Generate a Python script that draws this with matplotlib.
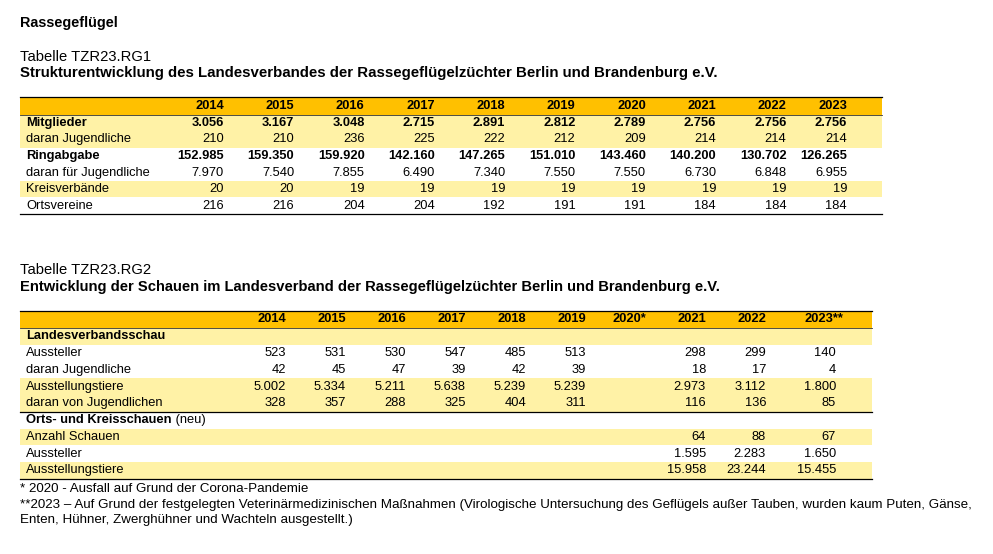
import matplotlib
matplotlib.use("Agg")
import matplotlib.pyplot as plt
from matplotlib.patches import Rectangle

plt.rcParams['font.family'] = ['Liberation Sans', 'DejaVu Sans']

# Tabelle 1 - Strukturentwicklung
years1 = ['2014', '2015', '2016', '2017', '2018', '2019', '2020', '2021', '2022', '2023']
labels1 = ['Mitglieder', 'daran Jugendliche', 'Ringabgabe', 'daran für Jugendliche',
           'Kreisverbände', 'Ortsvereine']
mitglieder = [3056, 3167, 3048, 2715, 2891, 2812, 2789, 2756, 2756, 2756]
mitglieder_jug = [210, 210, 236, 225, 222, 212, 209, 214, 214, 214]
ringabgabe = [152985, 159350, 159920, 142160, 147265, 151010, 143460, 140200, 130702, 126265]
ringabgabe_jug = [7970, 7540, 7855, 6490, 7340, 7550, 7550, 6730, 6848, 6955]
kreisverbaende = [20, 20, 19, 19, 19, 19, 19, 19, 19, 19]
ortsvereine = [216, 216, 204, 204, 192, 191, 191, 184, 184, 184]
bold1 = [True, False, True, False, False, False]
shade1 = [True, True, False, False, True, False]

# Tabelle 2 - Schauen
years2 = ['2014', '2015', '2016', '2017', '2018', '2019', '2020*', '2021', '2022', '2023**']
labels2 = ['Landesverbandsschau', 'Aussteller', 'daran Jugendliche', 'Ausstellungstiere',
           'daran von Jugendlichen', 'Orts- und Kreisschauen', 'Anzahl Schauen',
           'Aussteller', 'Ausstellungstiere']
lv_aussteller = [523, 531, 530, 547, 485, 513, None, 298, 299, 140]
lv_jugend = [42, 45, 47, 39, 42, 39, None, 18, 17, 4]
lv_tiere = [5002, 5334, 5211, 5638, 5239, 5239, None, 2973, 3112, 1800]
lv_tiere_jug = [328, 357, 288, 325, 404, 311, None, 116, 136, 85]
ok_schauen = [None] * 7 + [64, 88, 67]
ok_aussteller = [None] * 7 + [1595, 2283, 1650]
ok_tiere = [None] * 7 + [15958, 23244, 15455]
empty = [None] * 10
bold2 = [True, False, False, False, False, True, False, False, False]
shade2 = [True, False, False, True, True, False, True, False, True]

footnotes = ['* 2020 - Ausfall auf Grund der Corona-Pandemie',
             '**2023 – Auf Grund der festgelegten Veterinärmedizinischen Maßnahmen (Virologische '
             'Untersuchung des Geflügels außer Tauben, wurden kaum Puten, Gänse,',
             'Enten, Hühner, Zwerghühner und Wachteln ausgestellt.)']

ORANGE = '#FFC000'
YELLOW = '#FFF2A6'
FS = 9.3


def fmt(v):
    if v is None:
        return ''
    return f"{v:,}".replace(',', '.')


def draw_table(ax, top, head_h, row_h, x0, x1, col_x, head, labels, rows, bold, shade,
               val_x=None, mid_line=None):
    if val_x is None:
        val_x = col_x
    ax.add_patch(Rectangle((x0, top), x1 - x0, head_h, color=ORANGE, lw=0))
    for c, y in zip(col_x, head):
        ax.text(c, top + head_h / 2, y, ha='right', va='center', fontsize=FS, fontweight='bold')
    y0 = top + head_h
    for i, (lab, vals) in enumerate(zip(labels, rows)):
        yt = y0 + i * row_h
        if shade[i]:
            ax.add_patch(Rectangle((x0, yt), x1 - x0, row_h, color=YELLOW, lw=0))
        w = 'bold' if bold[i] else 'normal'
        t = ax.text(x0 + 6, yt + row_h / 2, lab, ha='left', va='center', fontsize=FS, fontweight=w)
        if lab.startswith('Orts-'):
            ax.annotate(' (neu)', xy=(1, 0), xycoords=t, ha='left', va='bottom', fontsize=FS)
        for c, v in zip(val_x, vals):
            ax.text(c, yt + row_h / 2, fmt(v), ha='right', va='center', fontsize=FS, fontweight=w)
    bottom = y0 + len(labels) * row_h
    ax.plot([x0, x1], [top, top], color='black', lw=0.9)
    ax.plot([x0, x1], [y0, y0], color='#333333', lw=0.6)
    ax.plot([x0, x1], [bottom, bottom], color='black', lw=0.9)
    if mid_line is not None:
        ym = y0 + mid_line * row_h
        ax.plot([x0, x1], [ym, ym], color='black', lw=0.9)


fig = plt.figure(figsize=(9.93, 5.54), dpi=100)
ax = fig.add_axes([0, 0, 1, 1])
ax.set_xlim(0, 993)
ax.set_ylim(554, 0)
ax.axis('off')

ax.text(20, 23, 'Rassegeflügel', fontsize=10.4, fontweight='bold', va='center')

ax.text(20, 57, 'Tabelle TZR23.RG1', fontsize=10.6, va='center')
ax.text(20, 72.5, 'Strukturentwicklung des Landesverbandes der Rassegeflügelzüchter Berlin und '
        'Brandenburg e.V.', fontsize=10.8, fontweight='bold', va='center')
cols1 = [224 + 70.3 * i for i in range(9)] + [847]
rows1 = [mitglieder, mitglieder_jug, ringabgabe, ringabgabe_jug, kreisverbaende, ortsvereine]
draw_table(ax, 97, 17.5, 16.6, 20, 882, cols1, years1, labels1, rows1, bold1, shade1)

ax.text(20, 270, 'Tabelle TZR23.RG2', fontsize=10.6, va='center')
ax.text(20, 286.5, 'Entwicklung der Schauen im Landesverband der Rassegeflügelzüchter Berlin und '
        'Brandenburg e.V.', fontsize=10.6, fontweight='bold', va='center')
cols2 = [286 + 60 * i for i in range(9)] + [843]
vals2 = [286 + 60 * i for i in range(9)] + [836]
rows2 = [empty, lv_aussteller, lv_jugend, lv_tiere, lv_tiere_jug, empty,
         ok_schauen, ok_aussteller, ok_tiere]
draw_table(ax, 311, 17, 16.75, 20, 872, cols2, years2, labels2, rows2, bold2, shade2,
           val_x=vals2, mid_line=5)

for i, note in enumerate(footnotes):
    ax.text(20, 489.5 + i * 15.5, note, fontsize=9.6, va='center')

fig.savefig('out.png', dpi=100)
